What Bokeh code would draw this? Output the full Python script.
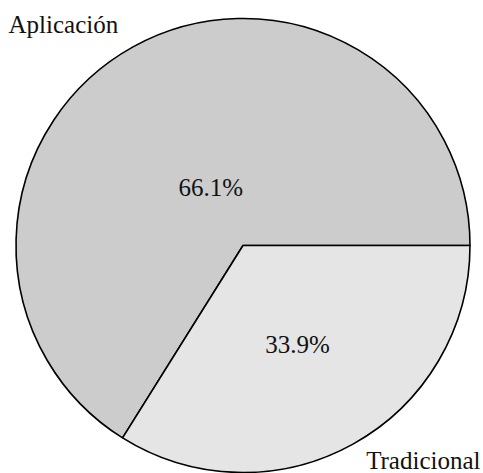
import math
from bokeh.plotting import figure
from bokeh.models import ColumnDataSource, Range1d
from bokeh.core.properties import value
from bokeh.embed import file_html
from bokeh.resources import INLINE

# data
categories = ["Aplicación", "Tradicional"]
shares = [66.1, 33.9]
pct_labels = ["66.1%", "33.9%"]
colors = ["#cccccc", "#e5e5e5"]

W, H = 483, 473
p = figure(width=W, height=H, output_backend="svg", toolbar_location=None,
           x_range=Range1d(0, W), y_range=Range1d(0, H),
           min_border=0)
p.axis.visible = False
p.grid.visible = False
p.outline_line_color = None
p.background_fill_color = "white"

cx, cy, r = 242.5, 228, 227

total = sum(shares)
starts, ends = [], []
acc = 0.0
for s in shares:
    starts.append(acc / total * 2 * math.pi)
    acc += s
    ends.append(acc / total * 2 * math.pi)

src = ColumnDataSource(dict(start=starts, end=ends, color=colors, cat=categories))
p.wedge(x=cx, y=cy, radius=r, start_angle="start", end_angle="end",
        fill_color="color", line_color="black", line_width=1.6, source=src)

fracs = [0.292, 0.497]
lx, ly = [], []
for a0, a1, f in zip(starts, ends, fracs):
    m = (a0 + a1) / 2
    lx.append(cx + f * r * math.cos(m))
    ly.append(cy + f * r * math.sin(m))
p.text(x=lx, y=ly, text=pct_labels, text_align="center", text_baseline="middle",
       text_font=value("Liberation Serif"), text_font_size="25px", text_color="#111111")

# outer category labels
p.text(x=[8], y=[449], text=[categories[0]], text_align="left", text_baseline="middle",
       text_font=value("Liberation Serif"), text_font_size="25px", text_color="#111111")
p.text(x=[480], y=[13], text=[categories[1]], text_align="right", text_baseline="middle",
       text_font=value("Liberation Serif"), text_font_size="25px", text_color="#111111")

open("out.html", "w").write(file_html(p, INLINE))
